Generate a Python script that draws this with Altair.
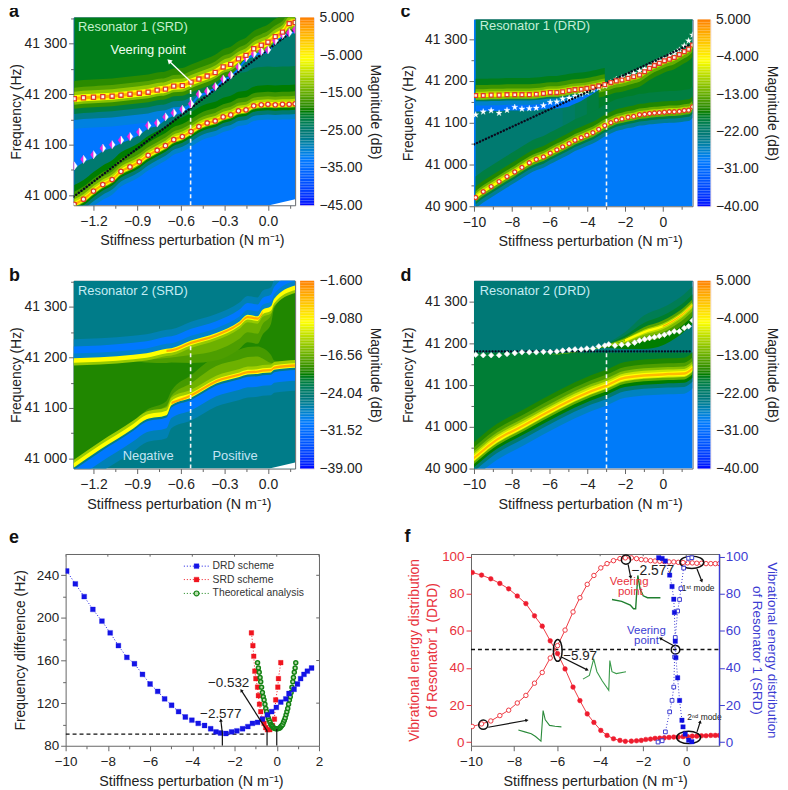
import math
import altair as alt
import numpy as np
import pandas as pd

FONT = "Liberation Sans"
XT = "Stiffness perturbation (N m\u207b\u00b9)"

# ---------- colour map (fraction of colour bar -> colour)
STOP_T = [0, .24, .38, .50, .78, 1]
STOP_C = ["#0000ff", "#0078ff", "#007878", "#007d00", "#ffff00", "#ff8000"]

# ---------- panel a
A_X = [-1.332,-1.269,-1.200,-1.136,-1.072,-1.011,-0.949,-0.885,-0.824,-0.762,-0.705,-0.648,-0.589,-0.529,-0.475,-0.418,-0.363,-0.308,-0.256,-0.203,-0.151,-0.098,-0.046,0.000,0.050,0.100,0.146,0.187]
A_UP = [41191,41193,41194,41195,41196,41198,41200,41202,41204,41208,41210,41216,41217,41224,41230,41236,41243,41254,41259,41270,41277,41290,41297,41303,41314,41323,41340,41342]
A_MID = [41058,41071,41080,41093,41100,41109,41116,41125,41138,41143,41155,41163,41170,41181,41200,41206,41215,41230,41238,41254,41272,41280,41285,41288,41306,41318,41322,41328]
A_LO = [40982,40992,41008,41021,41031,41047,41056,41066,41079,41089,41098,41110,41116,41126,41136,41143,41147,41155,41159,41167,41169,41177,41179,41180,41179,41180,41180,41181]
A_DIAG_X = [-1.337, 0.187]
A_DIAG_F = [40997, 41329]

# ---------- panel b
B_X = [-1.337,-1.154,-0.926,-0.835,-0.698,-0.664,-0.529,-0.356,-0.196,-0.139,-0.071,-0.037,0.021,0.043,0.187]
B_UP = [41194,41196,41201,41204,41213,41214,41229,41244,41267,41280,41277,41290,41297,41312,41338]
B_LO = [40986,41022,41064,41082,41090,41110,41125,41153,41166,41171,41172,41174,41175,41180,41184]
B_GAP1 = [0,3,8,14,24,24,40,50,50,50,50,45,30,14,4]
B_GAP2 = [0,0,4,8,14,14,24,30,30,30,30,24,14,8,2]

# ---------- panel c
C_X = [-9.91,-9.51,-9.09,-8.67,-8.25,-7.84,-7.46,-7.07,-6.70,-6.32,-5.96,-5.61,-5.30,-4.96,-4.65,-4.32,-4.02,-3.70,-3.39,-3.07,-2.75,-2.46,-2.16,-1.84,-1.54,-1.23,-0.96,-0.70,-0.44,-0.18,0.09,0.35,0.61,0.88,1.14,1.37,1.58]
C_UP = [41165,41165,41166,41166,41167,41167,41167,41167,41168,41170,41172,41172,41174,41177,41179,41180,41182,41185,41188,41191,41196,41200,41202,41206,41210,41214,41222,41230,41237,41242,41248,41252,41256,41263,41270,41276,41286]
C_STAR = [41119,41126,41129,41123,41130,41137,41133,41134,41135,41141,41149,41150,41157,41159,41164,41168,41173,41179,41183,41188,41196,41204,41208,41213,41218,41224,41229,41236,41242,41248,41254,41260,41266,41274,41284,41296,41310]
C_LO = [40921,40935,40947,40959,40971,40982,40993,41004,41012,41018,41027,41035,41042,41050,41058,41064,41070,41076,41084,41093,41100,41106,41109,41113,41115,41119,41120,41122,41123,41124,41125,41126,41126,41127,41129,41130,41138]
C_DIAG_X = [-10, 1.58]
C_DIAG_F = [41048, 41290]
C_POCKET1 = [38,38,38,38,38,38,38,38,38,38,38,38,38,38,34,28,22,16,10,5,0,0,0,0,0,0,0,0,0,0,0,0,0,0,0,0,0]
C_POCKET2 = [24,24,24,24,24,24,24,24,24,24,24,24,24,24,22,19,15,11,7,3,0,0,0,0,0,0,0,0,0,0,0,0,0,0,0,0,0]

# ---------- panel d
D_X = [-9.91,-9.51,-9.09,-8.67,-8.25,-7.84,-7.46,-7.07,-6.70,-6.32,-5.96,-5.61,-5.30,-4.96,-4.65,-4.32,-4.02,-3.70,-3.39,-3.07,-2.86,-2.53,-2.18,-1.84,-1.49,-1.23,-0.96,-0.70,-0.44,-0.18,0.09,0.35,0.61,0.88,1.14,1.37,1.58]
D_DIAM = [41172,41171,41171,41171,41174,41176,41178,41178,41178,41179,41179,41180,41182,41184,41185,41185,41187,41187,41192,41194,41197,41194,41196,41197,41201,41206,41209,41212,41214,41217,41220,41224,41228,41228,41236,41240,41254]
D_LX = [-10,-9,-7.3,-5.5,-3.8,-3,-2,0,1.14,1.58]
D_LO = [40925,40962,41005,41049,41085,41098,41117,41125,41127,41140]
D_UX = [-6,-4,-3,-2,-1,0,0.5,1,1.58]
D_UP = [41172,41183,41194,41206,41226,41240,41252,41267,41291]
D_W1 = [0,1,5,20,40,45,45,45,45]
D_W2 = [0,0,3,12,22,26,26,26,26]
D_W3 = [0,0,2,7,12,14,14,14,14]
D_W4 = [0,0,1,4,6,7,7,7,7]

# ---------- panel e
E_DRD_X = [-9.95,-9.54,-9.12,-8.71,-8.28,-7.89,-7.50,-7.10,-6.74,-6.36,-6.00,-5.64,-5.31,-4.98,-4.65,-4.33,-4.02,-3.72,-3.42,-3.13,-2.88,-2.66,-2.41,-2.14,-1.89,-1.62,-1.37,-1.15,-0.91,-0.68,-0.44,-0.24,-0.02,0.19,0.43,0.58,0.82,0.98,1.13,1.29,1.45,1.65]
E_DRD_Y = [244,232,220,208,197,186,174,163,157,147,138,131,124,118,112,107,104,101,99,96,93,92,91.5,93,94,96,98,101,102,105,109,112,116,121,124,129,133,138,143,147,150,153]
E_SRD_X = [-1.20,-1.13,-1.09,-1.04,-0.99,-0.91,-0.87,-0.82,-0.76,-0.68,-0.60,-0.52,-0.44,-0.33,-0.20,-0.11,-0.05,0.05,0.08,0.19]
E_SRD_Y = [186,174,164,150,143,135,127,119,112,105,101,97,95,95,99,105,123,135,143,158]
E_TH_X = [-.91,-.87,-.83,-.79,-.76,-.72,-.68,-.64,-.60,-.56,-.52,-.48,-.44,-.40,-.36,-.32,-.28,-.24,-.20,-.16,-.11,-.05,0,.05,.11,.16,.20,.24,.28,.32,.36,.40,.44,.48,.52,.56,.60,.64,.68,.72,.76,.79,.83,.87,.90]
E_TH_Y = [158,153,149,144,140,135,130,126,123,119,115,112,109,106,104,102,100,99,98,97,96.5,96,96,96,96.5,97,98,99,100,102,104,106,109,112,115,119,123,126,130,135,140,144,149,153,158]

# ---------- panel f
F_X = [-9.94,-9.51,-9.08,-8.66,-8.25,-7.85,-7.45,-7.05,-6.69,-6.32,-5.98,-5.63,-5.26,-4.94,-4.60,-4.29,-3.97,-3.68,-3.38,-3.08,-2.83,-2.55,-2.31,-2.09,-1.88,-1.66,-1.45,-1.23,-1.02,-.80,-.58,-.37,-.15,.06,.28,.49,.71,.92,1.14,1.35,1.54]
F_DRD1 = [91.6,90.2,88.2,85.7,82.8,78.9,74.8,68.2,62.6,54.7,47.8,39.5,29.7,22.4,15.2,10.6,6.3,3.6,1.8,.9,.4,.5,.7,.9,1.4,1.6,2.0,2.1,2.3,2.5,2.7,2.7,2.9,3.0,3.2,3.2,3.4,3.4,3.6,3.6,3.6]
F_DRD2 = [8.4,9.8,11.4,14.3,17.2,21.1,25.2,31.8,37.6,45.4,52.1,60.5,70.3,78.0,85.2,90.0,94.1,96.4,98.0,99.1,99.5,99.5,99.1,98.6,98.4,98.0,97.8,97.7,97.5,97.3,97.3,97.1,97.0,96.8,96.8,96.6,96.6,96.4,96.4,96.4,96.4]
F_SRD1_X = [-1.28,-1.12,-.97,-.77,-.66,-.58,-.55,-.51,-.48,-.40,-.31,-.20,-.15,-.05,.11,.26]
F_SRD1_Y = [99.6,99.2,97.8,90.2,84,77.2,70,54.5,45.6,34.7,22.5,11.8,8.2,4.3,1,.2]
F_SRD2_X = [-1.31,-1.12,-.97,-.77,-.66,-.58,-.54,-.51,-.40,-.31,-.25,-.12,.11,.26]
F_SRD2_Y = [0,.7,5.5,16.3,22.5,29.7,46,56.5,70.8,77,82.9,94,99.3,99.6]
TR1_X = [-7.8,-7.5,-7.2,-7.0,-6.75,-6.65,-6.55,-6.35,-6.1,-5.8]
TR1_Y = [6.5,5.5,4.5,3,0.5,17,12,9,8.5,8.2]
TR2_X = [-4.8,-4.5,-4.3,-4.15,-3.9,-3.6,-3.55,-3.45,-3.25,-2.8]
TR2_Y = [34,36,45,38,33,28,44,38,37,38]
TR3_X = [-3.45,-3.0,-2.6,-2.45,-2.35,-2.25,-2.15,-2.0,-1.8,-1.2]
TR3_Y = [77,76,74,72,72,90,83,79,78,78]

# ---------- colour bars
BAR_A = [5, -5, -15, -25, -35, -45]
BAR_B = [-1.6, -9.08, -16.56, -24.04, -31.52, -39]
BAR_C = [5, -4, -13, -22, -31, -40]

FRAME = "#666666"
TXT = "#222222"
Y5 = "replace(format(datum.value, ','), ',', ' ')"


def kw_axis(**k):
    base = dict(labelFont=FONT, titleFont=FONT, labelFontSize=14, titleFontSize=14,
                titleFontWeight="normal", labelColor=TXT, titleColor=TXT, tickColor=FRAME,
                tickSize=5, domain=False, grid=False, labelFlush=False, labelOverlap=False)
    base.update(k)
    return alt.Axis(**base)


def band(rows, idx, x, c, below, above, t, lo=None, hi=None, floor=None, cap=None):
    for i, xv in enumerate(x):
        if lo is not None and xv < lo:
            continue
        if hi is not None and xv > hi:
            continue
        bl = below[i] if isinstance(below, list) else below
        ab = above[i] if isinstance(above, list) else above
        y1 = c[i] - bl
        y2 = c[i] + ab
        if floor is not None:
            y1 = max(y1, floor[i])
        if cap is not None:
            y2 = max(min(y2, cap[i]), c[i])
        rows.append(dict(b=idx, x=xv, y=y1, y2=y2, t=t))


class Bands:
    def __init__(self):
        self.rows = []
        self.n = 0

    def add(self, *a, **k):
        band(self.rows, self.n, *a, **k)
        self.n += 1

    def rect(self, xd, y1, y2, t):
        self.add(xd, [y1, y1], 0, y2 - y1, t)


def heat_layer(b, xs, ys):
    df = pd.DataFrame(b.rows)
    return alt.Chart(df).mark_area(clip=True, interpolate="monotone", opacity=1).encode(
        x=alt.X("x:Q", scale=xs, axis=None), y=alt.Y("y:Q", scale=ys, axis=None), y2="y2:Q",
        detail="b:N",
        color=alt.Color("t:Q", scale=alt.Scale(domain=STOP_T, range=STOP_C), legend=None))


def corner(xs, ys):
    df = pd.DataFrame({"x": [0.01, 0.187], "y": [40980, 40980], "y2": [40980, 40992]})
    return alt.Chart(df).mark_area(color="#ffffff", clip=True, opacity=1).encode(
        x=alt.X("x:Q", scale=xs, axis=None), y=alt.Y("y:Q", scale=ys, axis=None), y2="y2:Q")


def pts(x, y, xs, ys, shape, size, fill, stroke, sw=1.0, clip=True, op=1):
    return alt.Chart(pd.DataFrame({"x": x, "y": y})).mark_point(
        shape=shape, size=size, filled=True, fill=fill, stroke=stroke, strokeWidth=sw, clip=clip, opacity=op
    ).encode(x=alt.X("x:Q", scale=xs, axis=None), y=alt.Y("y:Q", scale=ys, axis=None))


def line(x, y, xs, ys, color, sw=1.0, dash=None, cap=None, clip=True):
    kw = dict(color=color, strokeWidth=sw, clip=clip)
    if dash:
        kw["strokeDash"] = dash
    if cap:
        kw["strokeCap"] = cap
    return alt.Chart(pd.DataFrame({"x": x, "y": y})).mark_line(**kw).encode(
        x=alt.X("x:Q", scale=xs, axis=None), y=alt.Y("y:Q", scale=ys, axis=None), order="i:O"
    ).transform_window(i="row_number()")


def text(s, x, y, xs, ys, color=TXT, size=13, align="left", weight="normal"):
    return alt.Chart(pd.DataFrame({"x": [x], "y": [y], "s": [s]})).mark_text(
        font=FONT, fontSize=size, color=color, align=align, baseline="middle", fontWeight=weight
    ).encode(x=alt.X("x:Q", scale=xs, axis=None), y=alt.Y("y:Q", scale=ys, axis=None), text="s:N")


def letter(s, px, py):
    return alt.Chart(pd.DataFrame({"s": [s]})).mark_text(
        font=FONT, fontSize=18, fontWeight="bold", color="#111111", align="left", baseline="alphabetic"
    ).encode(x=alt.value(px), y=alt.value(py), text="s:N")


def arrow(x0, y0, x1, y1, xs, ys, xd, yd, w, h, color="#111111", sw=1.3, size=22):
    dx = (x1 - x0) * w / (xd[1] - xd[0])
    dy = -(y1 - y0) * h / (yd[1] - yd[0])
    ang = math.degrees(math.atan2(dx, -dy)) % 360
    r = line([x0, x1], [y0, y1], xs, ys, color, sw=sw, clip=False)
    p = alt.Chart(pd.DataFrame({"x": [x1], "y": [y1], "a": [ang]})).mark_point(
        shape="triangle-up", size=size, filled=True, color=color, opacity=1
    ).encode(x=alt.X("x:Q", scale=xs, axis=None), y=alt.Y("y:Q", scale=ys, axis=None),
             angle=alt.Angle("a:Q", scale=None))
    return [r, p]


def axes_layer(xd, yd, xs, ys, xticks, yticks, xminor, yminor, xfmt, yexpr=None, yfmt=None, lab=14, ytitle="Frequency (Hz)", xpad=6, ypad=1, tx=100):
    df = pd.DataFrame({"x": [xd[0]], "y": [yd[0]]})
    yk = dict(values=yticks, title=ytitle, orient="left", labelFontSize=lab, labelPadding=2, titlePadding=ypad)
    if yexpr:
        yk["labelExpr"] = yexpr
    if yfmt:
        yk["format"] = yfmt
    main = alt.Chart(df).mark_point(opacity=0).encode(
        x=alt.X("x:Q", scale=xs, axis=kw_axis(values=xticks, title=XT, format=xfmt, orient="bottom",
                                               labelFontSize=lab, titlePadding=xpad, labelPadding=4,
                                               titleFontSize=14.4, titleX=tx)),
        y=alt.Y("y:Q", scale=ys, axis=kw_axis(**yk)))
    minor = alt.Chart(df).mark_point(opacity=0).encode(
        x=alt.X("x:Q", scale=xs, axis=kw_axis(values=xminor, title=None, labels=False, tickSize=3, orient="bottom")),
        y=alt.Y("y:Q", scale=ys, axis=kw_axis(values=yminor, title=None, labels=False, tickSize=3, orient="left")))
    return [main, minor]


def colorbar(ticks, h, w=14):
    hi, lo = ticks[0], ticks[-1]
    edges = np.linspace(lo, hi, 120)
    df = pd.DataFrame({"y": edges[:-1], "y2": edges[1:], "t": (edges[:-1] + edges[1:]) / 2})
    df["t"] = (df["t"] - lo) / (hi - lo)
    df["x"] = 0
    df["x2"] = 1
    ch = alt.Chart(df).mark_rect(stroke=None).encode(
        x=alt.X("x:Q", scale=alt.Scale(domain=[0, 1]), axis=None), x2="x2:Q",
        y=alt.Y("y:Q", scale=alt.Scale(domain=[lo, hi], nice=False),
                axis=kw_axis(values=ticks, orient="right", title="Magnitude (dB)", format=".4r", titlePadding=6,
                             labelPadding=5, ticks=False, tickSize=0)),
        y2="y2:Q",
        color=alt.Color("t:Q", scale=alt.Scale(domain=STOP_T, range=STOP_C), legend=None))
    return ch.properties(width=w, height=h, view=alt.ViewBackground(stroke="#eedddd"))


def spacer(w, h):
    return alt.Chart(pd.DataFrame({"a": [0]})).mark_point(opacity=0).encode(
        x=alt.value(0), y=alt.value(0)).properties(width=w, height=h, view=alt.ViewBackground(stroke=None))


def finish(layers, w, h, stroke=FRAME):
    return alt.layer(*layers).resolve_axis(x="independent", y="independent").properties(
        width=w, height=h, view=alt.ViewBackground(stroke=stroke))


# ====================== panel a
W1, H1 = 223, 189
xd1 = [-1.337, 0.187]
yd1 = [40980, 41352]
xs = alt.Scale(domain=xd1, nice=False, zero=False)
ys = alt.Scale(domain=yd1, nice=False, zero=False)
b = Bands()
b.rect(xd1, 40980, 41352, .235)
b.add(A_X, A_LO, 0, 500, .40, cap=[m - 6 for m in A_MID])
b.add(A_X, A_LO, 0, 75, .46, cap=[m - 10 for m in A_MID], lo=-0.65)
b.add(A_X, A_LO, 0, 38, .50, cap=[m - 6 for m in A_MID])
b.add(A_X, A_LO, 0, 25, .55, cap=[m - 6 for m in A_MID])
b.add(A_X, A_LO, 0, 16, .61, cap=[m - 4 for m in A_MID])
b.add(A_X, A_LO, 0, 10, .70)
b.add(A_X, A_LO, 30, 0, .30)
b.add(A_X, A_LO, 20, 0, .40)
b.add(A_X, A_LO, 12, 0, .50)
b.add(A_X, A_LO, 7, 0, .64)
b.add(A_X, A_UP, 60, 0, .28, floor=A_MID)
b.add(A_X, A_UP, 42, 0, .36, floor=A_MID)
b.add(A_X, A_UP, 30, 0, .46, floor=A_MID)
b.add(A_X, A_UP, 20, 0, .54, floor=A_MID)
b.add(A_X, A_UP, 12, 0, .64, floor=A_MID)
b.add(A_X, A_UP, 0, 300, .49)
b.add(A_X, A_UP, 0, 35, .53)
b.add(A_X, A_UP, 0, 22, .58)
b.add(A_X, A_UP, 0, 14, .66)
b.add(A_X, A_UP, 7, 7, .78)
b.add(A_X, A_UP, 3, 3, .92)
b.add(A_X, A_LO, 5, 5, .78)
b.add(A_X, A_LO, 2.5, 2.5, .92)
half_l = "M0,-1L-0.72,0L0,1Z"
half_r = "M0,-1L0.72,0L0,1Z"
a_layers = [heat_layer(b, xs, ys), corner(xs, ys)]
a_layers += axes_layer(xd1, yd1, xs, ys, [-1.2, -.9, -.6, -.3, 0], [41000, 41100, 41200, 41300],
                       [-1.05, -.75, -.45, -.15, .15], [41050, 41150, 41250, 41350], ".1f", Y5, tx=119)
a_layers += [
    line(A_DIAG_X, A_DIAG_F, xs, ys, "#0a0a1e", sw=2.4, dash=[0.1, 3.2], cap="round"),
    line([-0.532, -0.532], [40980, 41222], xs, ys, "#f4f4f4", sw=1.6, dash=[4, 3]),
    pts(A_X, A_MID, xs, ys, half_l, 70, "#ee22dd", "#ee22dd", .3),
    pts(A_X, A_MID, xs, ys, half_r, 70, "#ffffff", "#ffffff", .3),
    pts(A_X, A_UP, xs, ys, "square", 17, "#fff4ee", "#e23a24", 1.3),
    pts(A_X, A_LO, xs, ys, "circle", 20, "#fff4ee", "#e23a24", 1.3),
    text("Resonator 1 (SRD)", -1.307, 41334, xs, ys, "#c4f0cc", 13),
    text("Veering point", -0.824, 41287, xs, ys, "#f0fff0", 13, "center"),
    letter("a", -65, 0),
]
a_layers += arrow(-0.532, 41225, -0.68, 41266, xs, ys, xd1, yd1, W1, H1, "#ffffff", 1.4, 30)
pa = finish(a_layers, W1, H1)

# ====================== panel b
xs = alt.Scale(domain=xd1, nice=False, zero=False)
ys = alt.Scale(domain=yd1, nice=False, zero=False)
b = Bands()
b.rect(xd1, 40980, 41352, .36)
b.add(B_X, B_UP, 0, 42, .32)
b.add(B_X, B_UP, 0, 28, .24)
b.add(B_X, B_UP, 0, 14, .30)
b.add(B_X, B_LO, 50, 0, .32)
b.add(B_X, B_LO, 30, 0, .24)
b.add(B_X, B_LO, 9, 0, .36)
b.add(B_X, B_LO, 0, 400, .52, cap=B_UP)
b.add(B_X, B_LO, 0, B_GAP1, .56, cap=B_UP)
b.add(B_X, B_UP, B_GAP1, 0, .57, floor=B_LO)
b.add(B_X, B_LO, 0, B_GAP2, .61, cap=B_UP)
b.add(B_X, B_UP, B_GAP2, 0, .61, floor=B_LO)
b.add(B_X, B_LO, 0, 11, .67, cap=B_UP)
b.add(B_X, B_UP, 10, 0, .66, floor=B_LO)
b.add(B_X, B_UP, 4.5, 4.5, .78)
b.add(B_X, B_LO, 4.5, 4.5, .78)
b.add(B_X, B_UP, 2.2, 2.2, .93, lo=-0.70, hi=0.02)
b.add(B_X, B_LO, 2.4, 2.4, .93, lo=-0.67)
b_layers = [heat_layer(b, xs, ys), corner(xs, ys)]
b_layers += axes_layer(xd1, yd1, xs, ys, [-1.2, -.9, -.6, -.3, 0], [41000, 41100, 41200, 41300],
                       [-1.05, -.75, -.45, -.15, .15], [41050, 41150, 41250, 41350], ".1f", Y5, tx=106)
b_layers += [
    line([-0.532, -0.532], [40980, 41225], xs, ys, "#f4f4f4", sw=1.6, dash=[4, 3]),
    text("Resonator 2 (SRD)", -1.307, 41331, xs, ys, "#c4ecf4", 13),
    text("Negative", -0.824, 41004, xs, ys, "#c4e4f4", 13, "center"),
    text("Positive", -0.226, 41004, xs, ys, "#c4e4f4", 13, "center"),
    letter("b", -65, 0),
]
pb = finish(b_layers, W1, H1)

# ====================== panel c
W2, H2 = 220, 188
xd2 = [-10, 1.58]
yd2 = [40900, 41347]
xs = alt.Scale(domain=xd2, nice=False, zero=False)
ys = alt.Scale(domain=yd2, nice=False, zero=False)
b = Bands()
b.rect(xd2, 40900, 41347, .25)
b.add(C_X, C_LO, 0, 400, .40, cap=C_UP)
b.add(C_X, C_LO, 0, 400, .42, cap=C_UP, lo=-5.4)
b.add(C_X, C_LO, 0, 400, .44, cap=C_UP, lo=-4.7)
b.add(C_X, C_LO, 0, 400, .46, cap=C_UP, lo=-4.1)
b.add(C_X, C_LO, 0, 400, .48, cap=C_UP, lo=-3.5)
b.add(C_X, C_UP, C_POCKET1, 0, .22)
b.add(C_X, C_UP, C_POCKET2, 0, .30)
b.add(C_X, C_UP, 14, 0, .44, hi=-3.5)
b.add(C_X, C_UP, 10, 0, .64, hi=-3.5)
b.add(C_X, C_UP, 28, 0, .53, lo=-3.4)
b.add(C_X, C_UP, 16, 0, .60, lo=-3.4)
b.add(C_X, C_UP, 8, 0, .70, lo=-3.4)
b.add(C_X, C_UP, 0, 300, .45)
b.add(C_X, C_UP, 0, 40, .49, hi=-3)
b.add(C_X, C_UP, 0, 25, .55, hi=-3)
b.add(C_X, C_UP, 0, 15, .62, hi=-3)
b.add(C_X, C_UP, 0, 9, .70, hi=-3)
b.add(C_X, C_LO, 0, 50, .46, cap=C_UP)
b.add(C_X, C_LO, 0, 26, .52)
b.add(C_X, C_LO, 0, 15, .60)
b.add(C_X, C_LO, 0, 9, .70)
b.add(C_X, C_LO, 26, 0, .35)
b.add(C_X, C_LO, 16, 0, .46)
b.add(C_X, C_LO, 10, 0, .60)
b.add(C_X, C_UP, 4, 4, .78)
b.add(C_X, C_LO, 4, 4, .78)
star = "M0,-1L.24,-.31L.95,-.31L.38,.12L.59,.81L0,.4L-.59,.81L-.38,.12L-.95,-.31L-.24,-.31Z"
c_layers = [heat_layer(b, xs, ys)]
c_layers += axes_layer(xd2, yd2, xs, ys, [-10, -8, -6, -4, -2, 0], [40900, 41000, 41100, 41200, 41300],
                       [-9, -7, -5, -3, -1, 1], [40950, 41050, 41150, 41250], "d", Y5, ypad=9, tx=117)
c_layers += [
    line([-2.98, -2.98], [40900, 41190], xs, ys, "#f4f4f4", sw=1.6, dash=[4, 3]),
    pts(C_X, C_STAR, xs, ys, star, 42, "#ffffff", "#ffffff", .3),
    line(C_DIAG_X, C_DIAG_F, xs, ys, "#0a0a1e", sw=2.4, dash=[0.1, 3.2], cap="round"),
    pts(C_X, C_UP, xs, ys, "square", 15, "#ffeee8", "#e23a24", 1.3),
    pts(C_X, C_LO, xs, ys, "circle", 17, "#fff4ee", "#e23a24", 1.3),
    text("Resonator 1 (DRD)", -9.7, 41331, xs, ys, "#c4f0d8", 13),
    letter("c", -74, -2),
]
pc = finish(c_layers, W2, H2)

# ====================== panel d
H3 = 189
yd3 = [40900, 41349]
xs = alt.Scale(domain=xd2, nice=False, zero=False)
ys = alt.Scale(domain=yd3, nice=False, zero=False)
b = Bands()
b.rect(xd2, 40900, 41349, .25)
b.rect(xd2, 41178, 41349, .385)
b.add(D_LX, D_LO, 0, 450, .47, cap=[41178] * len(D_LX))
b.add(D_UX, D_UP, D_W1, 0, .50)
b.add(D_UX, D_UP, D_W2, 0, .56)
b.add(D_UX, D_UP, D_W3, 0, .63)
b.add(D_UX, D_UP, D_W4, 0, .70)
b.add(D_UX, D_UP, 0, D_W1, .44)
b.add(D_UX, D_UP, 0, D_W2, .48)
b.add(D_UX, D_UP, 0, D_W3, .58)
b.add(D_UX, D_UP, 0, D_W4, .68)
b.add(D_LX, D_LO, 0, 38, .52)
b.add(D_LX, D_LO, 0, 26, .57)
b.add(D_LX, D_LO, 0, 17, .64)
b.add(D_LX, D_LO, 0, 11, .72)
b.add(D_LX, D_LO, 48, 0, .31)
b.add(D_LX, D_LO, 32, 0, .40)
b.add(D_LX, D_LO, 22, 0, .50)
b.add(D_LX, D_LO, 14, 0, .60)
b.add(D_LX, D_LO, 8, 0, .72)
b.add(D_LX, D_LO, 6, 6, .78)
b.add(D_LX, D_LO, 3, 3, .90)
b.add(D_UX, D_UP, 3, 3, .78, lo=-2)
b.add(D_UX, D_UP, 1.5, 1.5, .92, lo=0)
d_layers = [heat_layer(b, xs, ys)]
d_layers += axes_layer(xd2, yd3, xs, ys, [-10, -8, -6, -4, -2, 0], [40900, 41000, 41100, 41200, 41300],
                       [-9, -7, -5, -3, -1, 1], [40950, 41050, 41150, 41250], "d", Y5, ypad=9, tx=117)
d_layers += [
    line([-2.98, -2.98], [40900, 41180], xs, ys, "#f4f4f4", sw=1.6, dash=[4, 3]),
    line(xd2, [41180, 41180], xs, ys, "#0a0a1e", sw=2.2, dash=[0.1, 3.0], cap="round"),
    pts(D_X, D_DIAM, xs, ys, "diamond", 32, "#ffffff", "#f4ecf8", .6),
    text("Resonator 2 (DRD)", -9.7, 41325, xs, ys, "#c4ecf4", 13),
    letter("d", -74, 0),
]
pd_ = finish(d_layers, W2, H3)

# ====================== panel e
W4, H4 = 255, 193
xd4 = [-10, 2]
yd4 = [80, 260]
xs = alt.Scale(domain=xd4, nice=False, zero=False)
ys = alt.Scale(domain=yd4, nice=False, zero=False)
BLUE = "#1414e6"
RED = "#f0141e"
GRN = "#148214"
e_layers = axes_layer(xd4, yd4, xs, ys, [-10, -8, -6, -4, -2, 0, 2], [80, 120, 160, 200, 240],
                      [-9, -7, -5, -3, -1, 1], [100, 140, 180, 220], "d", None, "d", 13.5, "Frequency difference (Hz)", 6, 9, tx=126)
e_layers += [
    line([-10, -0.44], [91, 91], xs, ys, "#111111", sw=1.3, dash=[4, 3]),
    line(E_SRD_X, E_SRD_Y, xs, ys, RED, sw=1, dash=[1, 2]),
    pts(E_SRD_X, E_SRD_Y, xs, ys, "square", 22, RED, RED, .3),
    pts(E_TH_X, E_TH_Y, xs, ys, "circle", 16, "#b4dca8", GRN, 1.5),
    line(E_DRD_X, E_DRD_Y, xs, ys, BLUE, sw=1, dash=[1, 2]),
    pts(E_DRD_X, E_DRD_Y, xs, ys, "square", 24, BLUE, BLUE, .3),
    line([-2.577, -2.577], [80, 92], xs, ys, "#111111", sw=1.2),
    line([-0.46, -0.46], [80, 94], xs, ys, "#111111", sw=1.2),
    line([0, 0], [80, 96], xs, ys, "#111111", sw=1.2),
    text("\u22122.577", -1.67, 110, xs, ys, TXT, 13.5, "right"),
    text("\u22120.532", -1.3, 139, xs, ys, TXT, 13.5, "right"),
]
e_layers += arrow(-2.577, 92, -2.65, 104, xs, ys, xd4, yd4, W4, H4, "#111111", 1.2, 14)
e_layers += arrow(-0.46, 94, -1.68, 132, xs, ys, xd4, yd4, W4, H4, "#111111", 1.2, 14)
for lab, col, yy, kind, fill in [("DRD scheme", BLUE, 248.6, "square", BLUE), ("SRD scheme", RED, 236, "square", RED),
                                 ("Theoretical analysis", GRN, 223, "circle", "#b4dca8")]:
    e_layers += [
        line([-4.4, -3.2], [yy, yy], xs, ys, col, sw=1, dash=[1, 2]),
        pts([-3.8], [yy], xs, ys, kind, 24, fill, col, 1.2 if kind == "circle" else .3),
        text(lab, -3.04, yy, xs, ys, "#333333", 10.4),
    ]
for t_ in [-10, -8, -6, -4, -2, 0, 2]:
    e_layers.append(line([t_, t_], [260, 257.5], xs, ys, FRAME, sw=1))
for t_ in [120, 160, 200, 240]:
    e_layers.append(line([2, 1.87], [t_, t_], xs, ys, FRAME, sw=1))
e_layers.append(letter("e", -57, -11))
pe = finish(e_layers, W4, H4)

# ====================== panel f
W5, H5 = 250, 193
xd5 = [-10, 1.54]
yd5 = [-2, 101.6]
xs = alt.Scale(domain=xd5, nice=False, zero=False)
ys = alt.Scale(domain=yd5, nice=False, zero=False)
ysb = alt.Scale(domain=yd5, nice=False, zero=False)
RED2 = "#e8323c"
BLU2 = "#3c3cd2"
ell_h = "M-1,0A1,.52 0 1,1 1,0A1,.52 0 1,1 -1,0Z"
ell_v = "M0,-1A.4,1 0 1,1 0,1A.4,1 0 1,1 0,-1Z"


def ring(x, y, shape, size):
    return alt.Chart(pd.DataFrame({"x": [x], "y": [y]})).mark_point(
        shape=shape, size=size, filled=False, stroke="#111111", strokeWidth=1.5, opacity=1
    ).encode(x=alt.X("x:Q", scale=xs, axis=None), y=alt.Y("y:Q", scale=ys, axis=None))


f_base = alt.Chart(pd.DataFrame({"x": [-10], "y": [0]})).mark_point(opacity=0).encode(
    x=alt.X("x:Q", scale=xs, axis=kw_axis(values=[-10, -8, -6, -4, -2, 0], title=XT, format="d", orient="bottom",
                                          labelFontSize=13.5, titlePadding=6, labelPadding=4, titleFontSize=14.4)),
    y=alt.Y("y:Q", scale=ys, axis=kw_axis(values=[0, 20, 40, 60, 80, 100],
                                          title=["Vibrational energy distribution", "of Resonator 1 (DRD)"],
                                          orient="left", labelFontSize=13.5, labelColor=RED2, titleColor=RED2,
                                          tickColor=RED2, titlePadding=2, labelPadding=2, titleLineHeight=18)))
f_left = [
    f_base,
    line(xd5, [50, 50], xs, ys, "#111111", sw=1.4, dash=[4, 3]),
    line(F_X, F_DRD1, xs, ys, "#ee3a44", sw=1),
    line(F_X, F_DRD2, xs, ys, "#ee3a44", sw=1),
    pts(F_X, F_DRD2, xs, ys, "circle", 20, "#ffffff", "#ee3a44", 1),
    pts(F_X, F_DRD1, xs, ys, "circle", 22, "#ee1c2e", "#ee1c2e", .5),
    line(TR1_X, TR1_Y, xs, ys, "#2a8a3a", sw=1.1),
    line(TR2_X, TR2_Y, xs, ys, "#3a9a4a", sw=1.1),
    line(TR3_X, TR3_Y, xs, ys, "#1f7f2f", sw=1.4),
]
f_left += [
    text("\u22122.577", -2.55, 92.5, xs, ys, TXT, 14),
    text("\u22125.97", -5.72, 46.5, xs, ys, TXT, 13.5),
    text("Veering", -2.65, 86.5, xs, ys, RED2, 11.5, "center"),
    text("point", -2.6, 81.3, xs, ys, RED2, 11.5, "center"),
    text("Veering", -1.85, 59.8, xs, ys, BLU2, 11.5, "center"),
    text("point", -1.85, 54.8, xs, ys, BLU2, 11.5, "center"),
    text("1\u02e2\u1d57 mode", 0.55, 83, xs, ys, "#222222", 8.5, "center"),
    text("2\u207f\u1d48 mode", 0.85, 13.5, xs, ys, "#222222", 8.5, "center"),
    ring(-9.43, 9.4, "circle", 85),
    ring(-5.97, 49.5, ell_v, 484),
    ring(-2.8, 98.6, "circle", 85),
    ring(-0.5, 49.9, "circle", 75),
    ring(0.26, 97.1, ell_h, 576),
    ring(0.11, 2.5, ell_h, 576),
]
f_left += arrow(-9.2, 8.0, -7.4, 11.8, xs, ys, xd5, yd5, W5, H5, "#111111", 1.2, 14)
f_left += arrow(-5.8, 46, -4.6, 39, xs, ys, xd5, yd5, W5, H5, "#111111", 1.2, 14)
f_left += arrow(-2.7, 96, -2.58, 89, xs, ys, xd5, yd5, W5, H5, "#111111", 1.2, 14)
f_left += arrow(0.5, 93.5, 0.72, 87, xs, ys, xd5, yd5, W5, H5, "#111111", 1.2, 14)
f_left += arrow(-0.58, 52, -1.2, 56, xs, ys, xd5, yd5, W5, H5, "#111111", 1.2, 14)
f_left += arrow(0.5, 5.5, 0.65, 11, xs, ys, xd5, yd5, W5, H5, "#111111", 1.2, 14)
for t_ in [-10, -8, -6, -4, -2, 0]:
    f_left.append(line([t_, t_], [101.6, 100.4], xs, ys, FRAME, sw=1))
f_left.append(letter("f", -67, -12))

f_right = [
    alt.Chart(pd.DataFrame({"x": F_SRD1_X, "y": F_SRD1_Y})).mark_line(color=BLU2, strokeWidth=1, strokeDash=[1, 2]).encode(
        x=alt.X("x:Q", scale=xs, axis=None),
        y=alt.Y("y:Q", scale=ysb, axis=kw_axis(values=[0, 20, 40, 60, 80, 100],
                                               title=["Vibrational energy distribution", "of Resonator 1 (SRD)"],
                                               orient="right", labelFontSize=13.5, labelColor=BLU2, titleColor=BLU2,
                                               tickColor=BLU2, titlePadding=2, labelPadding=1, titleFontSize=13.5,
                                               titleLineHeight=15))),
    line(F_SRD2_X, F_SRD2_Y, xs, ysb, BLU2, sw=1, dash=[1, 2]),
    pts(F_SRD2_X, F_SRD2_Y, xs, ysb, "square", 14, "#ffffff", BLU2, 1),
    pts(F_SRD1_X, F_SRD1_Y, xs, ysb, "square", 20, "#1010e0", "#1010e0", .3),
    line([1.54, 1.54], yd5, xs, ysb, BLU2, sw=1.2, clip=False),
]
pf = alt.layer(
    alt.layer(*f_left).resolve_axis(x="independent", y="independent"),
    alt.layer(*f_right).resolve_axis(x="independent", y="independent"),
).resolve_scale(y="independent").resolve_axis(
    x="independent", y="independent").properties(width=W5, height=H5, view=alt.ViewBackground(stroke=FRAME))

# ====================== layout
SP = dict(bounds="flush", spacing=5)
c_col = alt.vconcat(spacer(235, 2), alt.hconcat(pc, colorbar(BAR_C, H2, 13), **SP), bounds="flush", spacing=0)
row1 = alt.hconcat(spacer(3, H1), pa, colorbar(BAR_A, H1), spacer(151, H1), c_col, **SP)
row2 = alt.hconcat(spacer(3, H1), pb, colorbar(BAR_B, H1), spacer(151, H1), pd_, colorbar(BAR_C, H3, 13), **SP)
row3 = alt.hconcat(pe, spacer(143, H4), pf, **SP)
chart = alt.vconcat(row1, spacer(10, 265), row2, spacer(10, 275), row3, bounds="flush", spacing=0).properties(
    padding={"left": 0, "top": -8, "right": 0, "bottom": 0}
).configure_view(stroke=None).configure_axis(grid=False)

chart.save("out.html", embed_options={"renderer": "svg", "actions": False})
